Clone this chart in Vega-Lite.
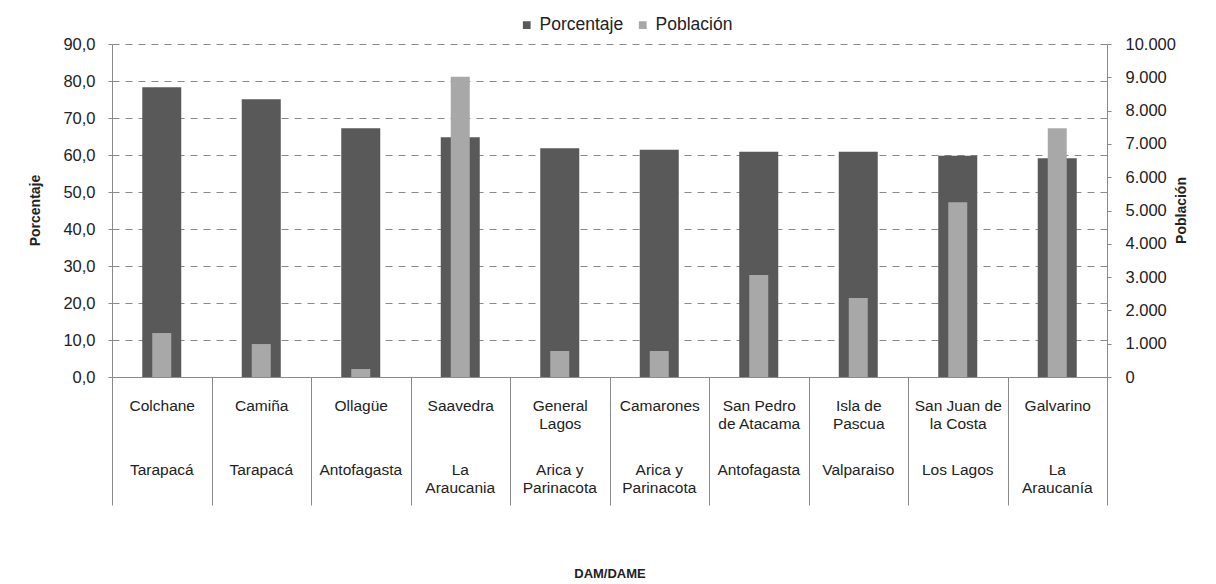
{
  "$schema": "https://vega.github.io/schema/vega-lite/v6.json",
  "autosize": {"type": "none"},
  "padding": {"left": 112, "top": 44, "right": 109, "bottom": 207},
  "width": 995,
  "height": 333,
  "background": "white",
  "config": {
    "font": "Liberation Sans",
    "view": {"stroke": null}
  },
  "data": {
    "values": [
      {"comuna": "Colchane", "porcentaje": 78.3, "poblacion": 1320},
      {"comuna": "Camiña", "porcentaje": 75.1, "poblacion": 990},
      {"comuna": "Ollagüe", "porcentaje": 67.2, "poblacion": 240},
      {"comuna": "Saavedra", "porcentaje": 64.8, "poblacion": 9020},
      {"comuna": "General Lagos", "porcentaje": 61.8, "poblacion": 780},
      {"comuna": "Camarones", "porcentaje": 61.4, "poblacion": 780},
      {"comuna": "San Pedro de Atacama", "porcentaje": 60.9, "poblacion": 3060},
      {"comuna": "Isla de Pascua", "porcentaje": 60.9, "poblacion": 2370},
      {"comuna": "San Juan de la Costa", "porcentaje": 59.8, "poblacion": 5250},
      {"comuna": "Galvarino", "porcentaje": 59.1, "poblacion": 7470}
    ]
  },
  "layer": [
    {
      "mark": {"type": "bar", "size": 39},
      "encoding": {
        "x": {
          "field": "comuna",
          "type": "nominal",
          "sort": null,
          "scale": {"paddingInner": 0, "paddingOuter": 0},
          "axis": {
            "orient": "bottom",
            "title": "DAM/DAME",
            "titleFontSize": 13,
            "titleFontWeight": "bold",
            "titleColor": "#222",
            "titleY": 200,
            "titleBaseline": "alphabetic",
            "labelAngle": 0,
            "labelFontSize": 15.5,
            "labelColor": "#222",
            "labelLineHeight": 18,
            "labelBaseline": "top",
            "labelPadding": -107,
            "labelOverlap": false,
            "labelLimit": 0,
            "labelBound": false,
            "labelFlush": false,
            "labelExpr": "{'General Lagos':['General','Lagos'],'San Pedro de Atacama':['San Pedro','de Atacama'],'Isla de Pascua':['Isla de','Pascua'],'San Juan de la Costa':['San Juan de','la Costa']}[datum.value] || datum.value",
            "tickBand": "extent",
            "tickSize": 128,
            "tickColor": "#8a8a8a",
            "tickWidth": 1,
            "domainColor": "#8a8a8a",
            "grid": false
          }
        },
        "y": {
          "field": "porcentaje",
          "type": "quantitative",
          "scale": {"domain": [0, 90], "nice": false},
          "axis": {
            "orient": "left",
            "title": "Porcentaje",
            "titleFontSize": 14,
            "titleFontWeight": "bold",
            "titleColor": "#222",
            "titleAngle": -90,
            "titleX": -77,
            "titleY": 166,
            "titleAlign": "center",
            "titleBaseline": "middle",
            "values": [0, 10, 20, 30, 40, 50, 60, 70, 80, 90],
            "labelExpr": "replace(format(datum.value, '.1f'), '.', ',')",
            "labelFontSize": 16.5,
            "labelColor": "#222",
            "labelPadding": 13,
            "tickSize": 4,
            "tickColor": "#8a8a8a",
            "domainColor": "#8a8a8a",
            "grid": true,
            "gridColor": "#8a8a8a",
            "gridDash": [7, 6],
            "gridWidth": 1
          }
        },
        "color": {
          "datum": "Porcentaje",
          "type": "nominal",
          "scale": {"domain": ["Porcentaje", "Población"], "range": ["#595959", "#a8a8a8"]},
          "legend": {
            "title": null,
            "orient": "none",
            "direction": "horizontal",
            "legendX": 406,
            "legendY": -28,
            "symbolType": "square",
            "symbolSize": 60,
            "symbolStrokeWidth": 0,
            "labelFontSize": 17.5,
            "labelColor": "#222",
            "labelOffset": 4,
            "columnPadding": 10
          }
        }
      }
    },
    {
      "mark": {"type": "bar", "size": 19},
      "encoding": {
        "x": {
          "field": "comuna",
          "type": "nominal",
          "sort": null,
          "axis": {
            "orient": "bottom",
            "title": null,
            "labelAngle": 0,
            "labelFontSize": 15.5,
            "labelColor": "#222",
            "labelLineHeight": 18,
            "labelBaseline": "top",
            "labelPadding": 85,
            "labelOverlap": false,
            "labelLimit": 0,
            "labelBound": false,
            "labelFlush": false,
            "labelExpr": "{'Colchane':'Tarapacá','Camiña':'Tarapacá','Ollagüe':'Antofagasta','Saavedra':['La','Araucania'],'General Lagos':['Arica y','Parinacota'],'Camarones':['Arica y','Parinacota'],'San Pedro de Atacama':'Antofagasta','Isla de Pascua':'Valparaiso','San Juan de la Costa':'Los Lagos','Galvarino':['La','Araucanía']}[datum.value]",
            "ticks": false,
            "tickSize": 0,
            "domain": false,
            "grid": false
          }
        },
        "y": {
          "field": "poblacion",
          "type": "quantitative",
          "scale": {"domain": [0, 10000], "nice": false},
          "axis": {
            "orient": "right",
            "title": "Población",
            "titleFontSize": 14,
            "titleFontWeight": "bold",
            "titleColor": "#222",
            "titleAngle": -90,
            "titleX": 74,
            "titleY": 166,
            "titleAlign": "center",
            "titleBaseline": "middle",
            "values": [0, 1000, 2000, 3000, 4000, 5000, 6000, 7000, 8000, 9000, 10000],
            "labelExpr": "replace(format(datum.value, ','), ',', '.')",
            "labelFontSize": 16.5,
            "labelColor": "#222",
            "labelPadding": 14,
            "tickSize": 4,
            "tickColor": "#8a8a8a",
            "domainColor": "#8a8a8a",
            "grid": false
          }
        },
        "color": {"datum": "Población", "type": "nominal"}
      }
    }
  ],
  "resolve": {"scale": {"y": "independent"}, "axis": {"x": "independent"}}
}
